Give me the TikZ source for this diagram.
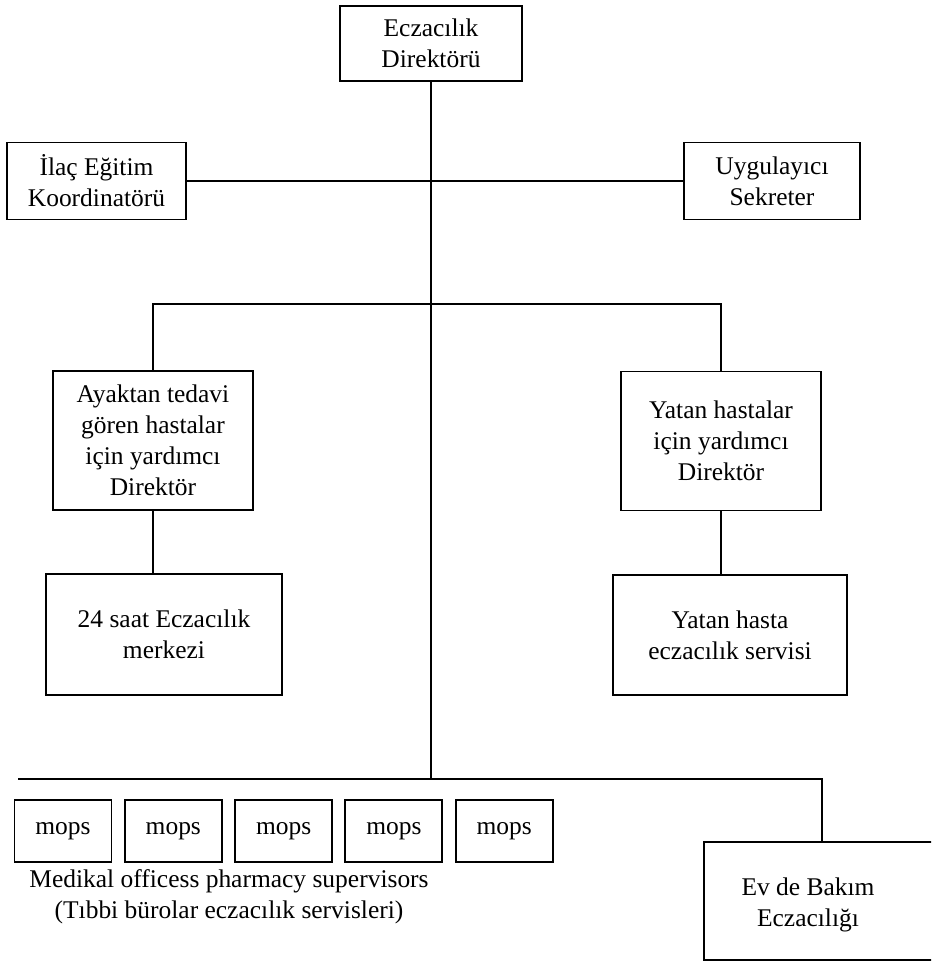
\documentclass[tikz,border=0pt]{standalone}
\usepackage{fontspec}
\setmainfont{Liberation Serif}

\begin{document}
\begin{tikzpicture}[x=0.02cm, y=-0.02cm,
    font=\fontsize{14.5pt}{17.6pt}\selectfont,
    box/.style={draw, line width=1.1pt, align=center, inner sep=0pt},
    link/.style={line width=1.1pt}]
                % Page
                \clip (0,0) rectangle (931,962);

                % --- TOP ---
                \node[box, minimum width=3.64cm, minimum height=1.5cm] (dir) at (431,43.5) {Eczacılık\\Direktörü};
                \node[box, minimum width=3.58cm, minimum height=1.54cm] (ilac) at (96.5,181) {İlaç Eğitim\\Koordinatörü};
                \node[box, minimum width=3.52cm, minimum height=1.54cm] (sek) at (772,181) {Uygulayıcı\\Sekreter};

                % --- ASSISTANT DIRECTORS ---
                \node[box, minimum width=4cm, minimum height=2.78cm] (ayak) at (153,440.5) {Ayaktan tedavi\\gören hastalar\\için yardımcı\\Direktör};
                \node[box, minimum width=4cm, minimum height=2.78cm] (yat) at (721,441) {Yatan hastalar\\için yardımcı\\Direktör};

                % Services under them
                \node[box, minimum width=4.72cm, minimum height=2.42cm] (merk) at (164,634.5) {24 saat Eczacılık\\merkezi};
                \node[box, minimum width=4.68cm, minimum height=2.4cm] (servis) at (730,635) {Yatan hasta\\eczacılık servisi};

                % --- BOTTOM ROW ---
                \node[box, minimum width=1.94cm, minimum height=1.24cm] (mops1) at (63,831) {mops};
                \node[box, minimum width=1.94cm, minimum height=1.24cm] (mops2) at (173.3,831) {mops};
                \node[box, minimum width=1.94cm, minimum height=1.24cm] (mops3) at (283.6,831) {mops};
                \node[box, minimum width=1.94cm, minimum height=1.24cm] (mops4) at (393.9,831) {mops};
                \node[box, minimum width=1.94cm, minimum height=1.24cm] (mops5) at (504.2,831) {mops};
                \node[align=center] (mopsnote) at (229,897) {Medikal officess pharmacy supervisors\\(Tıbbi bürolar eczacılık servisleri)};

                % Home care (runs off the right edge)
                \node[box, minimum width=4.72cm, minimum height=2.36cm] (ev) at (822,901) {};
                \node[align=center] (evtext) at (808,905) {Ev de Bakım\\Eczacılığı};

                % --- LINES ---
                \coordinate (bl) at (18,779);
                \coordinate (mid) at (431,304);
                \draw[link] (dir.south) -- (dir.south |- bl);
                \draw[link] (ilac.east) -- (sek.west);
                \draw[link] (ayak.north) |- (mid) -| (yat.north);
                \draw[link] (ayak.south) -- (ayak.south |- merk.north);
                \draw[link] (yat.south) -- (yat.south |- servis.north);
                \draw[link] (bl) -| (ev.north);
            \end{tikzpicture}
\end{document}
